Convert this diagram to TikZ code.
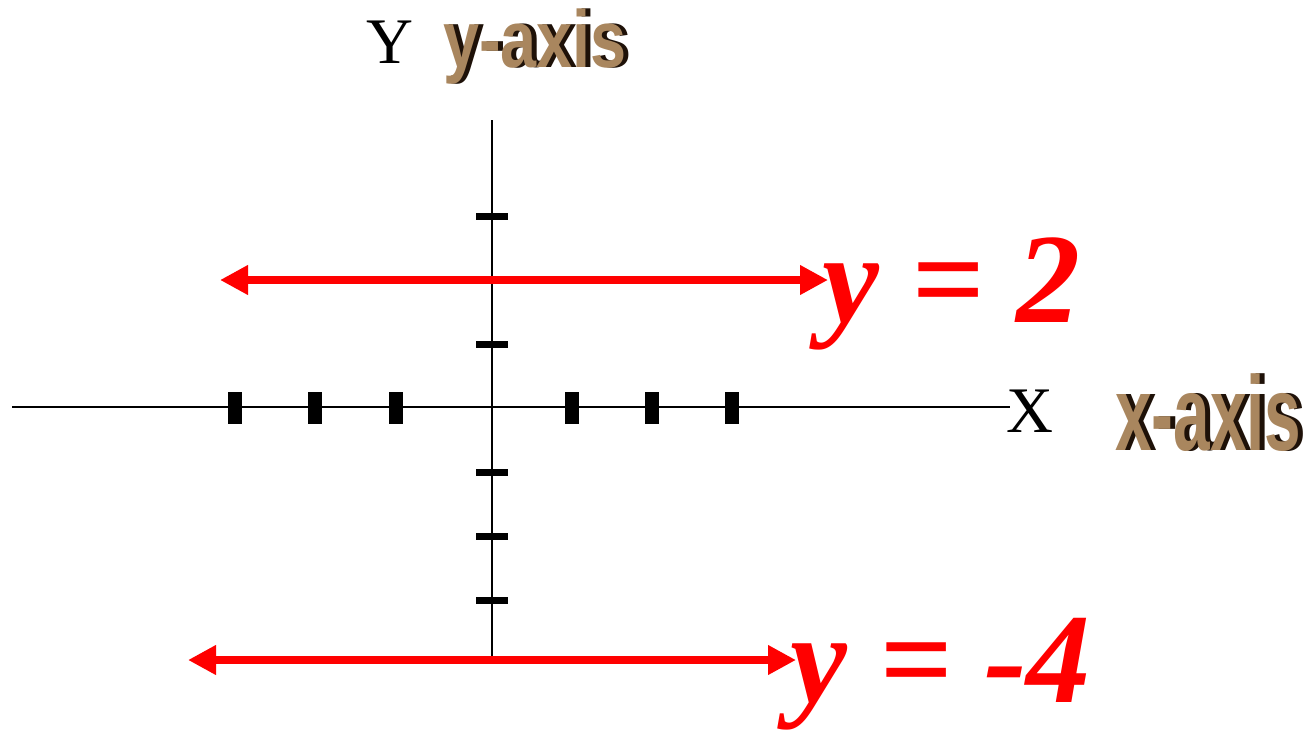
\documentclass[tikz,border=0pt]{standalone}
\usepackage{fontspec}
\setmainfont{Liberation Serif}
\newfontfamily\wordfont{Liberation Sans}
\usetikzlibrary{arrows.meta}

\definecolor{linered}{RGB}{255,0,0}
\definecolor{axistan}{HTML}{A9865E}
\definecolor{axisdark}{HTML}{1E1108}

\tikzset{
  axisline/.style={line width=2.4pt},
  redline/.style={linered, line width=8pt,
    {Triangle[length=28pt,width=28pt]}-{Triangle[length=28pt,width=28pt]}},
  eqlabel/.style={anchor=base west, inner sep=0pt, text=linered,
    font=\fontsize{128}{130}\selectfont\bfseries\itshape},
  axisname/.style={anchor=base, inner sep=0pt, font=\fontsize{65}{70}\selectfont},
  axisword/.style={anchor=base west, inner sep=0pt, font=\wordfont\bfseries},
}

\begin{document}
\begin{tikzpicture}[x=1pt, y=-1pt]
  \useasboundingbox (0,0) rectangle (1308,729);

  % axis names
  \node[axisname] (ylab) at (390,63) {Y};
  \node[axisname] (xlab) at (1030,432) {X};
  \node[axisword, text=axisdark] at (448,67) {\scalebox{0.8}[1]{\fontsize{81}{85}\selectfont y-axis}};
  \node[axisword, text=axistan] (yword) at (443,67) {\scalebox{0.8}[1]{\fontsize{81}{85}\selectfont y-axis}};
  \node[axisword, text=axisdark] at (1120,450) {\scalebox{0.62}[1]{\fontsize{106}{110}\selectfont x-axis}};
  \node[axisword, text=axistan] (xword) at (1115,450) {\scalebox{0.62}[1]{\fontsize{106}{110}\selectfont x-axis}};

  % axes
  \coordinate (xleft) at (12,407);
  \coordinate (xright) at (1010,407);
  \coordinate (ytop) at (492,120);
  \coordinate (ybot) at (492,660);
  \draw[axisline] (xleft) -- (xright);
  \draw[axisline] (ytop) -- (ybot);

  % tick marks
  \foreach \xx in {235,315,396,572,652,732}
    \fill (\xx-7,392) rectangle (\xx+7,424);
  \foreach \yy in {216,344,472,536,600}
    \fill (476,\yy-3.5) rectangle (508,\yy+3.5);

  % horizontal lines
  \coordinate (twoleft) at (220,280);
  \coordinate (tworight) at (828,280);
  \coordinate (fourleft) at (188,660);
  \coordinate (fourright) at (796,660);
  \draw[redline] (twoleft) -- (tworight);
  \draw[redline] (fourleft) -- (fourright);

  \node[eqlabel] (eqtwo) at (822,322) {y = 2};
  \node[eqlabel] (eqfour) at (790,702) {y = -4};
\end{tikzpicture}
\end{document}
